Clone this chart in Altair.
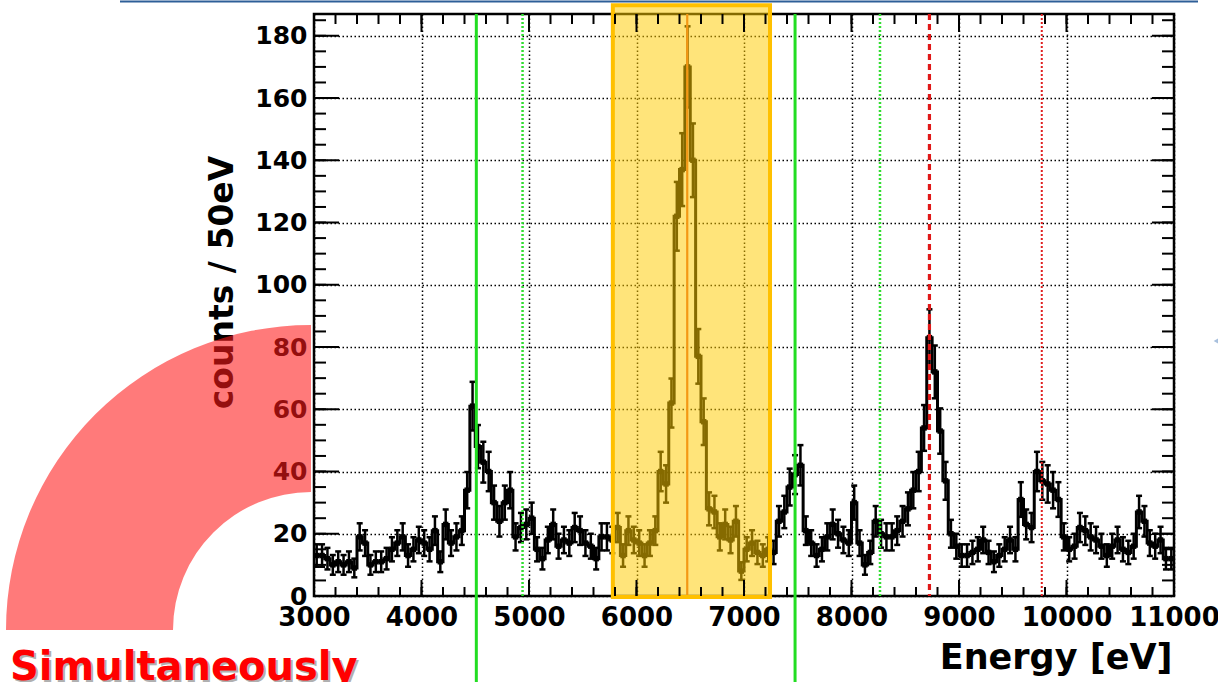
import altair as alt
import pandas as pd
import numpy as np

# ---- data (counts per 50 eV bin, 3000..11000 eV) ----
bin_start = 3000
bin_width = 50
counts = [
    13, 13, 12, 10, 11, 10, 11, 9, 19, 17,
    10, 11, 11, 12, 15, 17, 19, 13, 15, 18,
    17, 15, 21, 11, 23, 17, 19, 21, 34, 61,
    48, 43, 40, 30, 24, 30, 34, 19, 22, 23,
    25, 15, 12, 18, 23, 16, 18, 17, 22, 21,
    17, 16, 12, 19, 19, 18,
    22, 13, 21, 18, 17, 13, 17, 21,
    40, 36, 62, 122, 137, 170, 140, 77, 56, 28,
    27, 19, 23, 18, 24, 8, 15, 17, 14, 13, 15,
    14, 24, 27, 35, 39, 42,
    21, 17, 13, 15, 19, 23, 20, 18, 17,
    30, 17, 10, 14, 24, 20, 19, 19, 21, 24,
    28, 34, 40, 54, 83, 72, 53, 37,
    20, 16, 13, 13, 14, 15, 18,
    14, 11, 13, 15, 18, 15,
    31, 23, 22,
    40, 37, 36, 34, 31, 19,
    15, 16, 22, 21, 19, 18, 16, 13, 16, 18,
    15, 14, 16, 27, 24, 17, 16, 18, 12, 12,
]

x_major = [3000, 4000, 5000, 6000, 7000, 8000, 9000, 10000, 11000]
x_minor = list(range(3000, 11001, 200))
y_major = [0, 20, 40, 60, 80, 100, 120, 140, 160, 180]
y_minor = list(range(0, 186, 5))

green_solid = [4510, 7475]
green_dotted = [4940, 8265]
orange_line = [6472]
red_dashed = [8725]
red_dotted = [9770]
box_range = [5780, 7242]

x_domain = [3000, 11000]
y_domain = [0, 187]

# ---- tables ----
df = pd.DataFrame({
    "E": [bin_start + bin_width * (i + 0.5) for i in range(len(counts))],
    "N": counts,
})
df["lo"] = df["N"] - np.sqrt(df["N"])
df["hi"] = df["N"] + np.sqrt(df["N"])

FONT = "DejaVu Sans"
W, H = 860, 582

xs = alt.Scale(domain=x_domain, nice=False, zero=False)
ys = alt.Scale(domain=y_domain, nice=False, zero=False)

x_axis = alt.Axis(
    values=x_major, format="d", grid=True, ticks=False, domain=False,
    labelFont=FONT, labelFontSize=26, labelFontWeight="bold", labelColor="black",
    labelPadding=8, labelFlush=False, labelOverlap=False,
    gridColor="black", gridDash=[1.5, 2.5], gridWidth=1.5, gridOpacity=1,
    title="Energy [eV]", titleFont=FONT, titleFontSize=35, titleFontWeight="bold",
    titleColor="black", titleAnchor="end", titleAlign="right",
    titleX=858, titleY=72, titleBaseline="alphabetic",
)
y_axis = alt.Axis(
    values=y_major, format="d", grid=True, ticks=False, domain=False,
    labelFont=FONT, labelFontSize=25, labelFontWeight="bold", labelColor="black",
    labelPadding=7, labelFlush=False, labelOverlap=False,
    gridColor="black", gridDash=[1.5, 2.5], gridWidth=1.5, gridOpacity=1,
    title="counts / 50eV", titleFont=FONT, titleFontSize=33, titleFontWeight="bold",
    titleColor="black", titleAngle=270, titleAlign="center", titleBaseline="middle",
    titleX=-92, titleY=268,
)


def X(f):
    return alt.X(f, type="quantitative", scale=xs, axis=x_axis)


def Y(f):
    return alt.Y(f, type="quantitative", scale=ys, axis=y_axis)


base = alt.Chart(df)

step = base.mark_line(interpolate="step", color="black", strokeWidth=3).encode(x=X("E"), y=Y("N"))
err = base.mark_rule(color="black", strokeWidth=2.5).encode(x=X("E"), y=Y("lo"), y2="hi")
cap_hi = base.mark_tick(orient="horizontal", size=6, thickness=2.5, color="black", opacity=1).encode(x=X("E"), y=Y("hi"))
cap_lo = base.mark_tick(orient="horizontal", size=6, thickness=2.5, color="black", opacity=1).encode(x=X("E"), y=Y("lo"))
markers = base.mark_square(size=30, color="black", opacity=1).encode(x=X("E"), y=Y("N"))


def vlines(vals, color, width, dash=None, top=187, bottom=0):
    kw = dict(color=color, strokeWidth=width)
    if dash:
        kw["strokeDash"] = dash
    return alt.Chart(pd.DataFrame({"E": vals})).mark_rule(**kw).encode(
        x=X("E"), y=alt.datum(top), y2=alt.datum(bottom))


orange = vlines(orange_line, "#E8602A", 2.2)
box = alt.Chart(pd.DataFrame({"x0": [box_range[0]], "x1": [box_range[1]]})).mark_rect(
    fill="#FFCC00", fillOpacity=0.52, stroke="#FFC000", strokeWidth=4
).encode(x=X("x0"), x2="x1", y=alt.datum(189.8), y2=alt.datum(-0.3))

g_solid = vlines(green_solid, "#22DD22", 3, top=187, bottom=-28)
g_dot = vlines(green_dotted, "#33DD33", 2.5, dash=[2, 2])
r_dash = vlines(red_dashed, "#E01818", 3.2, dash=[6, 4])
r_dot = vlines(red_dotted, "#E02020", 2, dash=[2, 2])


def xticks(vals, size, at):
    return alt.Chart(pd.DataFrame({"E": vals})).mark_tick(
        orient="vertical", size=size, thickness=2, color="black", clip=True, opacity=1
    ).encode(x=X("E"), y=alt.datum(at))


def yticks(vals, size, at):
    return alt.Chart(pd.DataFrame({"v": vals})).mark_tick(
        orient="horizontal", size=size, thickness=2, color="black", clip=True, opacity=1
    ).encode(y=Y("v"), x=alt.datum(at))


ticks = [
    xticks(x_major, 32, 0), xticks(x_minor, 18, 0),
    xticks(x_major, 36, 187), xticks(x_minor, 20, 187),
    yticks(y_major, 50, 3000), yticks(y_minor, 24, 3000),
    yticks(y_major, 44, 11000), yticks(y_minor, 24, 11000),
]

deco = pd.DataFrame({"a": [0]})
ring = alt.Chart(deco).mark_arc(
    color="#FF1A1A", opacity=0.58, radius=305, radius2=138,
    theta=4.7124, theta2=6.2832,
).encode(x=alt.value(-3), y=alt.value(616))

shadow = alt.Chart(deco).mark_text(
    text="Simultaneously", font=FONT, fontSize=40, fontWeight="bold",
    color="#B0B0B0", align="left", baseline="alphabetic",
).encode(x=alt.value(-302), y=alt.value(668))
simul = alt.Chart(deco).mark_text(
    text="Simultaneously", font=FONT, fontSize=40, fontWeight="bold",
    color="#FF0000", align="left", baseline="alphabetic",
).encode(x=alt.value(-304), y=alt.value(666))

top_line = alt.Chart(deco).mark_rule(color="#2E5F98", strokeWidth=2).encode(
    x=alt.value(-194), x2=alt.value(884), y=alt.value(-12.5))
tri = alt.Chart(deco).mark_point(shape="triangle-left", filled=True, color="#A8C0DD",
                                 size=1100, opacity=1).encode(
    x=alt.value(914), y=alt.value(327))

chart = alt.layer(
    step, err, cap_hi, cap_lo, markers,
    orange, box, g_dot, r_dash, r_dot, g_solid,
    *ticks,
    ring, shadow, simul, top_line, tri,
).properties(
    width=W, height=H,
    autosize=alt.AutoSizeParams(type="none"),
    padding={"left": 314, "top": 14, "right": 44, "bottom": 86},
    background="white",
).configure_view(stroke="black", strokeWidth=2.5)

chart.save("out.html", embed_options={"renderer": "svg", "actions": False})
